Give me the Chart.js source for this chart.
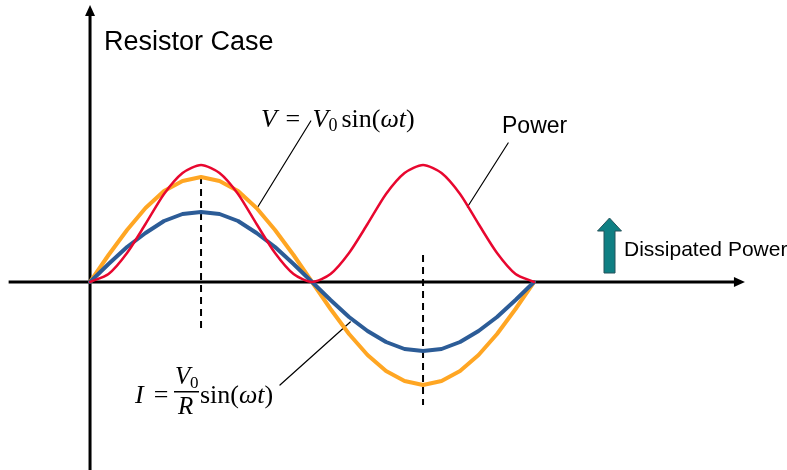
<!DOCTYPE html>
<html lang="en">
<head>
    <meta charset="UTF-8">
    <title>Resistor Case</title>
    <style>
        * { margin: 0; padding: 0; box-sizing: border-box; }
        body { background: #fff; width: 787px; height: 470px; overflow: hidden; }
        #chart { display: block; }
    </style>
</head>
<body>
    <canvas id="chart" width="787" height="470"></canvas>

    <script src="https://cdn.jsdelivr.net/npm/chart.js"></script>
    <script>
        // phase angle (degrees), one sample every 15 deg
        const angles = [0, 15, 30, 45, 60, 75, 90, 105, 120, 135, 150, 165, 180,
                        195, 210, 225, 240, 255, 270, 285, 300, 315, 330, 345, 360];
        // values (pixels above the time axis)
        const voltage = [0, 27, 52, 74, 91, 101, 105, 101, 91, 74, 52, 27, 0,
                         -27, -52, -73, -89, -99, -103, -99, -89, -73, -52, -27, 0];
        const current = [0, 18, 35, 49, 61, 68, 70, 68, 61, 49, 35, 18, 0,
                         -18, -35, -49, -60, -67, -69, -67, -60, -49, -35, -18, 0];
        const power = [0, 8, 29, 58, 88, 109, 117, 109, 88, 58, 29, 8, 0,
                       8, 29, 58, 88, 109, 117, 109, 88, 58, 29, 8, 0];

        // dashed guides at the peak and the trough
        const guidePeakX = [90, 90];
        const guidePeakY = [105, -48];
        const guideTroughX = [270, 270];
        const guideTroughY = [27, -123];

        // leader lines from the labels to the curves
        const voltLeadX = [179, 135];
        const voltLeadY = [161, 73];
        const powerLeadX = [339, 306];
        const powerLeadY = [139, 75];
        const currentLeadX = [154, 211];
        const currentLeadY = [-103, -40];

        // extent of the drawn axes
        const xAxisRange = [-66, 531];
        const yAxisRange = [-190, 277];

        function pts(xs, ys) {
            return xs.map((x, i) => ({ x: x, y: ys[i] }));
        }

        function lineSet(label, xs, ys, color, width, order, dash, tension) {
            return {
                label: label,
                data: pts(xs, ys),
                borderColor: color,
                borderWidth: width,
                borderDash: dash || [],
                borderJoinStyle: 'round',
                borderCapStyle: dash ? 'butt' : 'round',
                pointRadius: 0,
                tension: tension || 0,
                fill: false,
                order: order
            };
        }

        function arrowHead(ctx, x, y, dir) {
            // dir: 'right' or 'up'
            ctx.beginPath();
            if (dir === 'right') {
                ctx.moveTo(x, y);
                ctx.lineTo(x - 11, y - 5);
                ctx.lineTo(x - 11, y + 5);
            } else {
                ctx.moveTo(x, y);
                ctx.lineTo(x - 5, y + 11);
                ctx.lineTo(x + 5, y + 11);
            }
            ctx.closePath();
            ctx.fill();
        }

        // draw a row of text pieces left to right
        function drawRuns(ctx, x, y, runs) {
            runs.forEach(r => {
                x += r.gap || 0;
                ctx.font = r.font;
                ctx.fillText(r.t, x, y + (r.dy || 0));
                x += ctx.measureText(r.t).width;
            });
            return x;
        }

        const axesPlugin = {
            id: 'axes',
            beforeDatasetsDraw(chart) {
                const ctx = chart.ctx;
                const xs = chart.scales.x, ys = chart.scales.y;
                const x0 = xs.getPixelForValue(0), y0 = ys.getPixelForValue(0);
                const xl = xs.getPixelForValue(xAxisRange[0]);
                const xr = xs.getPixelForValue(xAxisRange[1]);
                const yb = ys.getPixelForValue(yAxisRange[0]);
                const yt = ys.getPixelForValue(yAxisRange[1]);
                ctx.save();
                ctx.strokeStyle = '#000';
                ctx.fillStyle = '#000';
                ctx.lineWidth = 3;
                ctx.beginPath();
                ctx.moveTo(xl, y0);
                ctx.lineTo(xr - 8, y0);
                ctx.moveTo(x0, yb);
                ctx.lineTo(x0, yt + 8);
                ctx.stroke();
                arrowHead(ctx, xr, y0, 'right');
                arrowHead(ctx, x0, yt, 'up');
                ctx.restore();
            }
        };

        const labelPlugin = {
            id: 'labels',
            afterDatasetsDraw(chart) {
                const ctx = chart.ctx;
                ctx.save();
                ctx.fillStyle = '#000';
                ctx.textBaseline = 'alphabetic';

                ctx.font = '27px Arial, "Liberation Sans", sans-serif';
                ctx.fillText('Resistor Case', 104, 50);

                ctx.font = '23px Arial, "Liberation Sans", sans-serif';
                ctx.fillText('Power', 502, 133);

                ctx.font = '21px Arial, "Liberation Sans", sans-serif';
                ctx.fillText('Dissipated Power', 624, 256);

                // teal arrow next to "Dissipated Power"
                ctx.beginPath();
                ctx.moveTo(604, 273);
                ctx.lineTo(604, 231);
                ctx.lineTo(597.5, 231);
                ctx.lineTo(609.5, 218);
                ctx.lineTo(621.5, 231);
                ctx.lineTo(615, 231);
                ctx.lineTo(615, 273);
                ctx.closePath();
                ctx.fillStyle = '#0F7F83';
                ctx.fill();
                ctx.strokeStyle = '#24525A';
                ctx.lineWidth = 1;
                ctx.stroke();
                ctx.fillStyle = '#000';

                const serif = '"Liberation Serif", "DejaVu Serif", serif';
                const it = 'italic 26px ' + serif;
                const up = '26px ' + serif;
                const sub = '18px ' + serif;

                // V = V0 sin(wt)
                drawRuns(ctx, 261, 127, [
                    { t: 'V', font: it },
                    { t: ' = ', font: up, gap: 2 },
                    { t: 'V', font: it, gap: 6 },
                    { t: '0', font: sub, dy: 4 },
                    { t: 'sin(', font: up, gap: 4 },
                    { t: 'ωt', font: it },
                    { t: ')', font: up }
                ]);

                // I = V0/R sin(wt)
                drawRuns(ctx, 135, 403, [
                    { t: 'I', font: it },
                    { t: '=', font: up, gap: 10 }
                ]);
                const fi = 'italic 25px ' + serif;
                ctx.font = fi;
                ctx.fillText('V', 175, 384);
                ctx.font = '17px ' + serif;
                ctx.fillText('0', 190, 388);
                ctx.font = fi;
                ctx.fillText('R', 178, 414);
                ctx.fillRect(174, 391, 25, 1.5);
                drawRuns(ctx, 200, 403, [
                    { t: 'sin(', font: up },
                    { t: 'ωt', font: it },
                    { t: ')', font: up }
                ]);
                ctx.restore();
            }
        };

        new Chart(document.getElementById('chart'), {
            type: 'line',
            data: {
                datasets: [
                    lineSet('Power', angles, power, '#E8072F', 2.5, 1, null, 0.25),
                    lineSet('Current', angles, current, '#2C5C97', 4, 2),
                    lineSet('Voltage', angles, voltage, '#FFA623', 4, 3),
                    lineSet('Peak guide', guidePeakX, guidePeakY, '#000', 2, 4, [7, 5]),
                    lineSet('Trough guide', guideTroughX, guideTroughY, '#000', 2, 4, [7, 5]),
                    lineSet('V leader', voltLeadX, voltLeadY, '#000', 1.2, 5),
                    lineSet('P leader', powerLeadX, powerLeadY, '#000', 1.2, 5),
                    lineSet('I leader', currentLeadX, currentLeadY, '#000', 1.2, 5)
                ]
            },
            options: {
                responsive: false,
                devicePixelRatio: 1,
                animation: false,
                layout: { padding: 0 },
                clip: false,
                plugins: {
                    legend: { display: false },
                    tooltip: { enabled: false }
                },
                scales: {
                    x: { type: 'linear', min: -73, max: 565.1, display: false },
                    y: { type: 'linear', min: -188, max: 282, display: false }
                }
            },
            plugins: [axesPlugin, labelPlugin]
        });
    </script>
</body>
</html>
